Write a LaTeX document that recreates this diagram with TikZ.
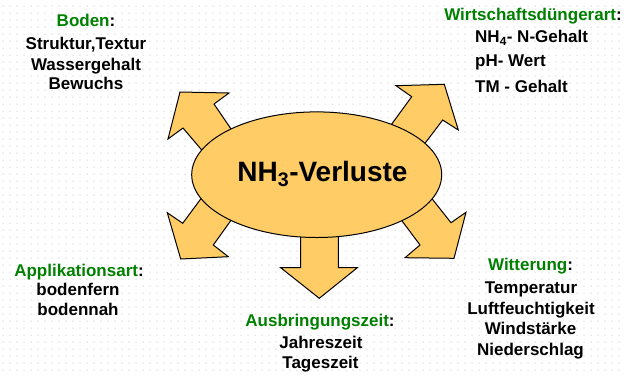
\documentclass[tikz,border=0pt]{standalone}
\usepackage{fontspec}
\setmainfont{Liberation Sans}
\definecolor{fillor}{HTML}{FFCC66}
\definecolor{titlegreen}{HTML}{008000}
\definecolor{dotc}{HTML}{D6D6D6}
\begin{document}
\begin{tikzpicture}[x=1pt,y=-1pt,
  blockarrow/.style={fill=fillor, draw=black, line width=1pt, line join=miter},
  lbl/.style={anchor=base, inner sep=0, font=\fontsize{17}{21}\selectfont\bfseries},
  lbll/.style={lbl, anchor=base west}]
\useasboundingbox (0,0) rectangle (625,376);
% dotted background
\foreach \x in {3,10,...,624}{
  \foreach \y in {6,13,...,375}{
    \fill[dotc] (\x,\y) circle (0.75);
  }
}
% block arrows
\draw[blockarrow] (244,148) -- (214,104) -- (229,93) -- (180,92) -- (168,139) -- (183,128) -- (217,168) -- cycle;
\draw[blockarrow] (410,163) -- (442.7,120) -- (458.3,130) -- (444.3,84.3) -- (396,85.7) -- (411.7,96.7) -- (375,147) -- cycle;
\draw[blockarrow] (217,177) -- (182.7,223.3) -- (167.3,212.7) -- (180.7,259) -- (228.3,256.7) -- (213.3,245) -- (247,198) -- cycle;
\draw[blockarrow] (414,176) -- (451,222.7) -- (466,212.3) -- (454,258.3) -- (405,257.7) -- (420,245) -- (385,198) -- cycle;
\draw[blockarrow] (300.7,200) -- (300.7,267.7) -- (280.7,267.7) -- (319.3,298.3) -- (357.3,267.7) -- (338.3,267.7) -- (338.3,200) -- cycle;
% central ellipse
\filldraw[fill=fillor, draw=black, line width=1pt] (316.7,174.7) ellipse [x radius=125, y radius=62.8];
\coordinate (ec) at (316.7,174.7);
\node[anchor=base, inner sep=0, font=\fontsize{28}{34}\selectfont\bfseries] (mt) at (322.5,181.7) {NH\textsubscript{3}-Verluste};
% Boden
\node[lbl] (b0) at (86,26.7) {\textcolor{titlegreen}{Boden}:};
\node[lbl] (b1) at (86,49) {Struktur,Textur};
\node[lbl] (b2) at (86,70) {Wassergehalt};
\node[lbl] (b3) at (86,89.3) {Bewuchs};
% Wirtschaftsduengerart
\node[lbl] (w0) at (533,20.7) {\textcolor{titlegreen}{Wirtschaftsdüngerart}:};
\node[lbll] (w1) at (475,42.7) {NH\textsubscript{4}- N-Gehalt};
\node[lbll] (w2) at (475,66.7) {pH- Wert};
\node[lbll] (w3) at (475,92.3) {TM - Gehalt};
% Applikationsart
\node[lbl] (a0) at (79,276) {\textcolor{titlegreen}{Applikationsart}:};
\node[lbl] (a1) at (78,295) {bodenfern};
\node[lbl] (a2) at (78,315) {bodennah};
% Ausbringungszeit
\node[lbl] (z0) at (320,326.7) {\textcolor{titlegreen}{Ausbringungszeit}:};
\node[lbl] (z1) at (321,348.3) {Jahreszeit};
\node[lbl] (z2) at (320.5,368.3) {Tageszeit};
% Witterung
\node[lbl] (r0) at (530.5,270.7) {\textcolor{titlegreen}{Witterung}:};
\node[lbl] (r1) at (531,293.3) {Temperatur};
\node[lbl] (r2) at (531,314) {Luftfeuchtigkeit};
\node[lbl] (r3) at (530.5,334) {Windstärke};
\node[lbl] (r4) at (530.5,355) {Niederschlag};
\end{tikzpicture}
\end{document}
